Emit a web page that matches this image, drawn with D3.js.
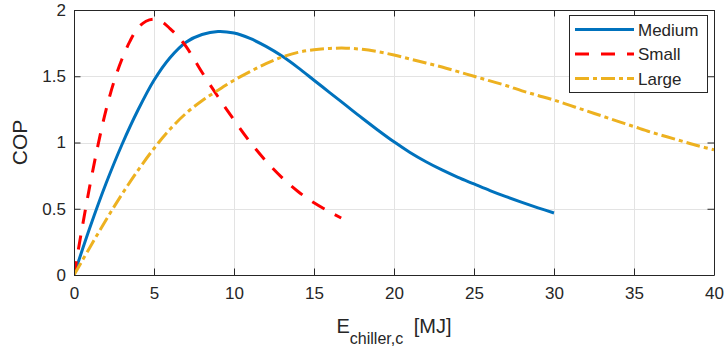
<!DOCTYPE html>
<html>
<head>
<meta charset="utf-8">
<script src="https://cdn.jsdelivr.net/npm/d3@7"></script>
<style>
  html, body { margin: 0; padding: 0; background: #fff; }
  svg { display: block; font-family: "Liberation Sans", Arial, sans-serif; }
</style>
</head>
<body>
<svg id="chart" width="728" height="356"></svg>
<script>
// COP versus chiller cooling energy for three chiller sizes
const xTicks = [0, 5, 10, 15, 20, 25, 30, 35, 40];
const yTicks = [0, 0.5, 1, 1.5, 2];
const yTickLabels = ["0", "0.5", "1", "1.5", "2"];
const seriesNames = ["Medium", "Small", "Large"];

const mediumE = [0, 1, 2, 3, 4, 5, 6, 7, 8, 9, 10, 11, 12, 13, 14, 15, 16, 17, 18, 19, 20,
                 21, 22, 23, 24, 25, 26, 27, 28, 29, 30];
const mediumCOP = [0, 0.36, 0.69, 0.985, 1.245, 1.47, 1.64, 1.757, 1.815, 1.838, 1.826, 1.785,
                   1.725, 1.652, 1.565, 1.47, 1.375, 1.28, 1.185, 1.093, 1.005, 0.925, 0.855,
                   0.793, 0.737, 0.687, 0.637, 0.591, 0.548, 0.507, 0.468];

const smallE = [0, 0.5, 1, 1.5, 2, 2.5, 3, 3.5, 4, 4.5, 5, 5.5, 6, 6.5, 7, 7.5, 8, 9, 10,
                11, 12, 13, 14, 15, 16, 16.7];
const smallCOP = [0, 0.35, 0.68, 0.98, 1.245, 1.46, 1.63, 1.765, 1.865, 1.915, 1.93, 1.91,
                  1.86, 1.80, 1.725, 1.63, 1.53, 1.345, 1.17, 1.005, 0.86, 0.735, 0.63,
                  0.545, 0.475, 0.43];

const largeE = [0, 1, 2, 3, 4, 5, 6, 7, 8, 9, 10, 11, 12, 13, 14, 15, 16, 17, 18, 19, 20,
                21, 22, 23, 24, 25, 26, 27, 28, 29, 30, 31, 32, 33, 34, 35, 36, 37, 38, 39, 40];
const largeCOP = [0, 0.21, 0.415, 0.61, 0.79, 0.955, 1.10, 1.22, 1.315, 1.395, 1.47, 1.535,
                  1.595, 1.645, 1.68, 1.70, 1.71, 1.712, 1.703, 1.685, 1.66, 1.63, 1.60, 1.57,
                  1.535, 1.50, 1.465, 1.43, 1.39, 1.355, 1.32, 1.28, 1.24, 1.20, 1.16, 1.12,
                  1.08, 1.045, 1.01, 0.975, 0.945];

const series = [
  { name: seriesNames[0], xs: mediumE, ys: mediumCOP, color: "#0072BD", dash: null },
  { name: seriesNames[1], xs: smallE, ys: smallCOP, color: "#FF0000", dash: "14,12" },
  { name: seriesNames[2], xs: largeE, ys: largeCOP, color: "#EDB120", dash: "14,4,4,4" }
];

const svg = d3.select("#chart");
const plot = { left: 74, right: 714, top: 10, bottom: 275 };
const ink = "#262626";

const x = d3.scaleLinear().domain([0, 40]).range([plot.left, plot.right]);
const y = d3.scaleLinear().domain([0, 2]).range([plot.bottom, plot.top]);

// grid
const grid = svg.append("g").attr("stroke", "#e3e3e3").attr("stroke-width", 1);
grid.selectAll("line.gx").data(xTicks.slice(1, -1)).join("line")
  .attr("x1", d => Math.round(x(d)) + 0.5).attr("x2", d => Math.round(x(d)) + 0.5)
  .attr("y1", plot.top).attr("y2", plot.bottom);
grid.selectAll("line.gy").data(yTicks.slice(1, -1)).join("line")
  .attr("y1", d => Math.round(y(d)) + 0.5).attr("y2", d => Math.round(y(d)) + 0.5)
  .attr("x1", plot.left).attr("x2", plot.right);

// curves
svg.append("clipPath").attr("id", "plotclip").append("rect")
  .attr("x", plot.left).attr("y", plot.top - 2)
  .attr("width", plot.right - plot.left).attr("height", plot.bottom - plot.top + 2);

const line = d3.line().curve(d3.curveCatmullRom.alpha(0.5));
const curves = svg.append("g").attr("clip-path", "url(#plotclip)");
series.forEach(s => {
  const pts = s.xs.map((e, i) => [x(e), y(s.ys[i])]);
  curves.append("path")
    .attr("d", line(pts))
    .attr("fill", "none")
    .attr("stroke", s.color)
    .attr("stroke-width", 3)
    .attr("stroke-dasharray", s.dash)
    .attr("stroke-linejoin", "round");
});

// axes with inward ticks on all four sides
const tickLen = 6.5;
const axisFont = "17px";
const bottomAxis = d3.axisBottom(x).tickValues(xTicks).tickSizeInner(-tickLen).tickSizeOuter(0).tickPadding(12);
const topAxis = d3.axisTop(x).tickValues(xTicks).tickSizeInner(-tickLen).tickSizeOuter(0).tickFormat("");
const leftAxis = d3.axisLeft(y).tickValues(yTicks).tickSizeInner(-tickLen).tickSizeOuter(0)
  .tickPadding(8).tickFormat((d, i) => yTickLabels[i]);
const rightAxis = d3.axisRight(y).tickValues(yTicks).tickSizeInner(-tickLen).tickSizeOuter(0).tickFormat("");

function styleAxis(g) {
  g.select(".domain").attr("stroke", ink).attr("stroke-width", 1);
  g.selectAll(".tick line").attr("stroke", ink).attr("stroke-width", 1);
  g.selectAll(".tick text").attr("fill", ink).style("font-size", axisFont)
    .style("font-family", "'Liberation Sans', Arial, sans-serif");
}
svg.append("g").attr("transform", `translate(0,${plot.bottom})`).call(bottomAxis).call(styleAxis);
svg.append("g").attr("transform", `translate(0,${plot.top})`).call(topAxis).call(styleAxis);
svg.append("g").attr("transform", `translate(${plot.left},0)`).call(leftAxis).call(styleAxis);
svg.append("g").attr("transform", `translate(${plot.right},0)`).call(rightAxis).call(styleAxis);

// axis labels
const xl = svg.append("text")
  .attr("x", (plot.left + plot.right) / 2).attr("y", 333)
  .attr("text-anchor", "middle").attr("fill", ink).style("font-size", "20px");
xl.append("tspan").text("E");
xl.append("tspan").attr("dy", 11).style("font-size", "16px").text("chiller,c");
xl.append("tspan").attr("dy", -11).attr("dx", 5).text(" [MJ]");

svg.append("text")
  .attr("transform", `translate(27,${(plot.top + plot.bottom) / 2}) rotate(-90)`)
  .attr("text-anchor", "middle").attr("fill", ink).style("font-size", "21px")
  .text("COP");

// legend
const lg = svg.append("g");
lg.append("rect").attr("x", 569.5).attr("y", 15.5).attr("width", 138).attr("height", 77)
  .attr("fill", "#fff").attr("stroke", ink).attr("stroke-width", 1);
series.forEach((s, i) => {
  const cy = 29.5 + i * 24.5;
  lg.append("line").attr("x1", 575).attr("x2", 634).attr("y1", cy).attr("y2", cy)
    .attr("stroke", s.color).attr("stroke-width", 3).attr("stroke-dasharray", s.dash);
  lg.append("text").attr("x", 638).attr("y", cy).attr("dy", "0.36em")
    .attr("fill", ink).style("font-size", "17px").text(s.name);
});
</script>
</body>
</html>
